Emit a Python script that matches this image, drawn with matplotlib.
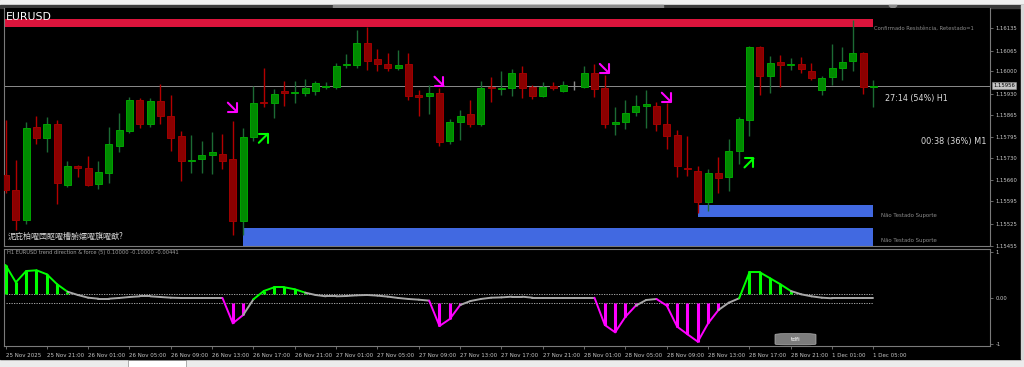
import matplotlib
matplotlib.use('Agg')
import matplotlib.pyplot as plt
from matplotlib.patches import Rectangle, FancyBboxPatch, Polygon
from matplotlib.transforms import offset_copy, blended_transform_factory

# ---------------- data ----------------
symbol = "EURUSD"
opens = [1.15678, 1.15631, 1.15535, 1.15828, 1.15793, 1.15837, 1.15647, 1.15706, 1.15700, 1.15650,
         1.15684, 1.15768, 1.15815, 1.15912, 1.15837, 1.15909, 1.15862, 1.15800, 1.15722, 1.15728,
         1.15740, 1.15743, 1.15728, 1.15532, 1.15796, 1.15906, 1.15902, 1.15938, 1.15933, 1.15934,
         1.15940, 1.15950, 1.15950, 1.16019, 1.16019, 1.16090, 1.16038, 1.16024, 1.16010, 1.16024,
         1.15926, 1.15924, 1.15933, 1.15782, 1.15842, 1.15867, 1.15836, 1.15952, 1.15944, 1.15947,
         1.15995, 1.15952, 1.15922, 1.15955, 1.15939, 1.15956, 1.15953, 1.15995, 1.15948, 1.15836,
         1.15842, 1.15872, 1.15893, 1.15893, 1.15836, 1.15803, 1.15700, 1.15688, 1.15592, 1.15683,
         1.15670, 1.15751, 1.15847, 1.16075, 1.15987, 1.16029, 1.16019, 1.16023, 1.16002, 1.15943,
         1.15982, 1.16012, 1.16033, 1.16057, 1.15953]
highs = [1.15849, 1.15725, 1.15843, 1.15862, 1.15859, 1.15849, 1.15722, 1.15707, 1.15737, 1.15722,
         1.15828, 1.15871, 1.15921, 1.15918, 1.15918, 1.15961, 1.15927, 1.15815, 1.15803, 1.15784,
         1.15812, 1.15806, 1.15846, 1.15824, 1.15955, 1.16012, 1.15946, 1.15971, 1.15969, 1.15977,
         1.15971, 1.15966, 1.16028, 1.16055, 1.16130, 1.16138, 1.16070, 1.16057, 1.16067, 1.16059,
         1.15943, 1.15958, 1.15948, 1.15852, 1.15880, 1.15912, 1.15971, 1.15984, 1.16000, 1.16007,
         1.16018, 1.15958, 1.15966, 1.15968, 1.15971, 1.15969, 1.16018, 1.16024, 1.15990, 1.15888,
         1.15912, 1.15927, 1.15943, 1.15906, 1.15902, 1.15818, 1.15800, 1.15706, 1.15694, 1.15732,
         1.15789, 1.15857, 1.16080, 1.16081, 1.16049, 1.16050, 1.16042, 1.16045, 1.16026, 1.15987,
         1.16085, 1.16076, 1.16161, 1.16060, 1.15974]
lows = [1.15622, 1.15504, 1.15525, 1.15772, 1.15747, 1.15585, 1.15638, 1.15669, 1.15641, 1.15634,
        1.15653, 1.15747, 1.15809, 1.15824, 1.15828, 1.15837, 1.15753, 1.15659, 1.15684, 1.15684,
        1.15681, 1.15694, 1.15488, 1.15488, 1.15784, 1.15890, 1.15856, 1.15891, 1.15903, 1.15924,
        1.15927, 1.15945, 1.15945, 1.16011, 1.16011, 1.16005, 1.16000, 1.16002, 1.16005, 1.15912,
        1.15860, 1.15867, 1.15766, 1.15772, 1.15787, 1.15827, 1.15831, 1.15906, 1.15927, 1.15922,
        1.15917, 1.15914, 1.15920, 1.15943, 1.15937, 1.15943, 1.15948, 1.15920, 1.15824, 1.15803,
        1.15821, 1.15860, 1.15824, 1.15813, 1.15758, 1.15670, 1.15673, 1.15558, 1.15564, 1.15621,
        1.15626, 1.15712, 1.15800, 1.15925, 1.15934, 1.15953, 1.16005, 1.15995, 1.15974, 1.15927,
        1.15958, 1.15974, 1.16000, 1.15929, 1.15889]
closes = [1.15629, 1.15535, 1.15824, 1.15793, 1.15837, 1.15653, 1.15706, 1.15700, 1.15647, 1.15687,
          1.15775, 1.15818, 1.15912, 1.15837, 1.15909, 1.15862, 1.15793, 1.15719, 1.15725, 1.15740,
          1.15747, 1.15722, 1.15532, 1.15796, 1.15902, 1.15903, 1.15930, 1.15933, 1.15937, 1.15949,
          1.15965, 1.15954, 1.16018, 1.16023, 1.16088, 1.16034, 1.16023, 1.16010, 1.16021, 1.15922,
          1.15921, 1.15934, 1.15780, 1.15841, 1.15861, 1.15837, 1.15948, 1.15948, 1.15948, 1.15995,
          1.15948, 1.15922, 1.15953, 1.15947, 1.15957, 1.15956, 1.15995, 1.15945, 1.15836, 1.15842,
          1.15870, 1.15893, 1.15897, 1.15837, 1.15800, 1.15704, 1.15694, 1.15592, 1.15683, 1.15668,
          1.15753, 1.15852, 1.16075, 1.15987, 1.16026, 1.16019, 1.16023, 1.16008, 1.15981, 1.15979,
          1.16010, 1.16029, 1.16057, 1.15953, 1.15956]

# trend direction & force values per bar
tdf = [0.724, 0.348, 0.593, 0.609, 0.522, 0.304, 0.143, 0.072, 0.013, -0.009,
       -0.009, 0.007, 0.028, 0.043, 0.043, 0.028, 0.013, 0.007, 0.007, 0.007,
       0.007, 0.007, -0.543, -0.363, -0.020, 0.159, 0.239, 0.239, 0.196, 0.123,
       0.072, 0.043, 0.043, 0.050, 0.065, 0.072, 0.058, 0.036, 0.007, -0.015,
       -0.030, -0.051, -0.602, -0.450, -0.146, -0.059, -0.015, 0.013, 0.020, 0.035,
       0.035, 0.013, 0.013, 0.013, 0.013, 0.013, 0.013, 0.013, -0.580, -0.739,
       -0.400, -0.160, -0.037, -0.015, -0.160, -0.616, -0.783, -0.943, -0.543, -0.254,
       -0.095, 0.000, 0.565, 0.565, 0.435, 0.304, 0.159, 0.087, 0.043, 0.013,
       0.000, 0.000, 0.000, 0.000, 0.000]
tdf_levels = [0.1, -0.1]

time_labels = ["25 Nov 2025", "25 Nov 21:00", "26 Nov 01:00", "26 Nov 05:00", "26 Nov 09:00",
               "26 Nov 13:00", "26 Nov 17:00", "26 Nov 21:00", "27 Nov 01:00", "27 Nov 05:00",
               "27 Nov 09:00", "27 Nov 13:00", "27 Nov 17:00", "27 Nov 21:00", "28 Nov 01:00",
               "28 Nov 05:00", "28 Nov 09:00", "28 Nov 13:00", "28 Nov 17:00", "28 Nov 21:00",
               "1 Dec 01:00", "1 Dec 05:00"]
time_label_bars = list(range(0, 85, 4))

price_ticks = [1.16135, 1.16065, 1.16000, 1.15930, 1.15865, 1.15795, 1.15730,
               1.15660, 1.15595, 1.15525, 1.15455]
current_price = 1.15956

down_arrow_bars = [22, 42, 58, 64]
down_arrow_prices = [1.15887, 1.15968, 1.16008, 1.15918]
up_arrow_bars = [25, 72]
up_arrow_prices = [1.15793, 1.15716]

# zones: (start bar, end bar, low price, high price, label, label price)
zone_res = (-1, 84, 1.16138, 1.16164, "Confirmado Resistência, Retestado=1", 1.16136)
zone_sup1 = (67, 84, 1.15546, 1.15582, "Não Testado Suporte", 1.15551)
zone_sup2 = (23, 84, 1.15440, 1.15512, "Não Testado Suporte", 1.15472)

timer_h1 = "27:14 (54%) H1"
timer_m1 = "00:38 (36%) M1"
ind_title = "H1 EURUSD trend direction & force (5) 0.10000 -0.10000 -0.00441"
garbled = "泥庇柏嚁団眍嚁槽腑嬬嚁旗嚁猷?"

# ---------------- figure ----------------
W, H = 1024, 367
fig = plt.figure(figsize=(W / 100, H / 100), dpi=100, facecolor='black')
plt.rcParams['font.family'] = ['DejaVu Sans']


def px_axes(x0, y0, x1, y1):
    return fig.add_axes([x0 / W, 1 - y1 / H, (x1 - x0) / W, (y1 - y0) / H])


# window chrome
bg = fig.add_axes([0, 0, 1, 1])
bg.set_xlim(0, W)
bg.set_ylim(H, 0)
bg.axis('off')
bg.add_patch(Rectangle((0, 0), W, 5, color='#f0f0f0'))
bg.add_patch(Rectangle((0, 5), W, 3, color='#3a3a3a'))
bg.add_patch(Rectangle((333, 5), 330, 3, color='#8a8a8a'))
bg.add_patch(Polygon([[889, 5.5], [897, 5.5], [893, 9]], closed=True, color='#8a8a8a'))
bg.add_patch(Rectangle((0, 359), W, 8, color='#ececec'))
bg.add_patch(Rectangle((128, 360), 58, 7, facecolor='white', edgecolor='#a0a0a0', lw=0.6))
bg.add_patch(Rectangle((0, 347), 1021, 12, color='black'))
bg.add_patch(Rectangle((1021, 5), 3, 354, color='#d8d8d8'))

GRID = '#7a7a7a'
TXT = '#c8c8c8'

# ---------------- main chart ----------------
X0, X1 = 4, 990
bar_px0, bar_dx = 5.5, 10.333
xl = ((X0 - bar_px0) / bar_dx, (X1 - bar_px0) / bar_dx)

ax = px_axes(X0, 8, X1, 246)
ax.set_facecolor('black')
ax.set_xlim(*xl)
p_ref, y_ref, ppx = 1.16135, 28.3, 32100.0
ax.set_ylim(p_ref - (246 - y_ref) / ppx, p_ref + (y_ref - 8) / ppx)
for s in ax.spines.values():
    s.set_color(GRID)
    s.set_linewidth(0.8)
ax.spines['top'].set_visible(False)
ax.set_xticks([])
ax.yaxis.tick_right()
ax.set_yticks(price_ticks)
ax.set_yticklabels([f"{p:.5f}" for p in price_ticks])
ax.tick_params(axis='y', colors=GRID, labelcolor=TXT, labelsize=3.8, length=2, width=0.6, pad=2)

# zones
for (b0, b1, lo, hi, lab, lp), col in [(zone_res, '#dc143c'), (zone_sup1, '#4169e1'),
                                       (zone_sup2, '#4169e1')]:
    x_left = b0 if b0 >= 0 else xl[0]
    ax.add_patch(Rectangle((x_left, lo), b1 - x_left, hi - lo, facecolor=col, edgecolor='none', zorder=1))

ax.text(zone_res[1] + 0.05, zone_res[5], zone_res[4], color='#8a8a8a', fontsize=3.8,
        ha='left', va='center', zorder=5)
for z in (zone_sup1, zone_sup2):
    ax.text(z[1] + 0.7, z[5], z[4], color='#8a8a8a', fontsize=3.9, ha='left', va='center', zorder=5)

# current price line
ax.axhline(current_price, color='#8c8c8c', lw=0.7, zorder=2)

# candles
n = len(opens)
idx = list(range(n))
for i in idx:
    o, h, l, c = opens[i], highs[i], lows[i], closes[i]
    if c > o:
        wick, body, edge = '#1c6b34', '#008a00', '#00a300'
    elif c < o:
        wick, body, edge = '#b40000', '#8b0000', '#a00000'
    else:
        wick, body, edge = '#8c8c8c', '#8c8c8c', '#8c8c8c'
    ax.vlines(i, l, h, color=wick, lw=1.0, zorder=3)
    ax.bar(i, c - o, bottom=o, width=0.66, color=body, edgecolor=edge, lw=0.7, zorder=4)

# signal arrows
head_dn = offset_copy(ax.transData, fig=fig, x=3.6, y=-3.6, units='points')
for b, p in zip(down_arrow_bars, down_arrow_prices):
    ax.annotate('', xy=(b, p), xycoords=head_dn, xytext=(-7.2, 7.2), textcoords='offset points',
                arrowprops=dict(arrowstyle='->,head_length=0.45,head_width=0.45', color='#ff00ff',
                                lw=1.5, shrinkA=0, shrinkB=0), zorder=6)
head_up = offset_copy(ax.transData, fig=fig, x=3.6, y=3.6, units='points')
for b, p in zip(up_arrow_bars, up_arrow_prices):
    ax.annotate('', xy=(b, p), xycoords=head_up, xytext=(-7.2, -7.2), textcoords='offset points',
                arrowprops=dict(arrowstyle='->,head_length=0.45,head_width=0.45', color='#00ff00',
                                lw=1.5, shrinkA=0, shrinkB=0), zorder=6)

# texts
ax.text(0.002, 0.985, symbol, transform=ax.transAxes, color='white', fontsize=7.8,
        ha='left', va='top', zorder=7)
ax.text(0.004, 0.022, garbled, transform=ax.transAxes, color='#d8d8d8', fontsize=5.8,
        ha='left', va='bottom', family=['Noto Sans CJK JP', 'DejaVu Sans'], zorder=7)
ax.text(0.8935, 0.62, timer_h1, transform=ax.transAxes, color='#dcdcdc', fontsize=5.8,
        ha='left', va='center', zorder=7)
ax.text(0.9305, 0.44, timer_m1, transform=ax.transAxes, color='#dcdcdc', fontsize=5.9,
        ha='left', va='center', zorder=7)

# current price box on the axis
trb = blended_transform_factory(ax.transAxes, ax.transData)
ax.text(1.003, current_price, f"{current_price:.5f}", transform=trb, color='black', fontsize=3.8,
        ha='left', va='center', zorder=8, clip_on=False,
        bbox=dict(boxstyle='square,pad=0.25', facecolor='#c4c4c4', edgecolor='#909090', lw=0.4))

# ---------------- indicator pane ----------------
ai = px_axes(X0, 249, X1, 346)
ai.set_facecolor('black')
ai.set_xlim(*xl)
ai.set_ylim((298.3 - 346) / 46.0, (298.3 - 249) / 46.0)
for s in ai.spines.values():
    s.set_color(GRID)
    s.set_linewidth(0.8)
ai.yaxis.tick_right()
ai.set_yticks([1, 0, -1])
ai.set_yticklabels(["1", "0.00", "-1"])
ai.tick_params(axis='y', colors=GRID, labelcolor=TXT, labelsize=3.8, length=2, width=0.6, pad=2)
ai.set_xticks(time_label_bars)
ai.set_xticklabels(time_labels)
ai.tick_params(axis='x', colors=GRID, labelcolor=TXT, labelsize=4.0, length=2.2, width=0.6, pad=2.6)
for t in ai.get_xticklabels():
    t.set_ha('left')

up_lv, dn_lv = tdf_levels
ai.hlines(tdf_levels, 0, n - 1, colors='#bdbdbd', linestyles=(0, (1.5, 1.5)), lw=0.6, zorder=2)

# histogram
for i in idx:
    v = tdf[i]
    if v > up_lv:
        ai.vlines(i, up_lv, v, color='#00ff00', lw=2.2, zorder=3)
    elif v < dn_lv:
        ai.vlines(i, dn_lv, v, color='#ff00ff', lw=2.2, zorder=3)

# line, coloured by state of the newer bar
for i in range(1, n):
    v = tdf[i]
    col = '#00ff00' if v > up_lv else ('#ff00ff' if v < dn_lv else '#a8a8a8')
    ai.plot([i - 1, i], [tdf[i - 1], v], color=col, lw=1.4, solid_capstyle='round', zorder=4)

ai.text(0.0035, 0.985, ind_title, transform=ai.transAxes, color='#a0a0a0', fontsize=3.7,
        ha='left', va='top')

# tdfi button
btn_x = (775 - X0) / (X1 - X0)
ai.add_patch(FancyBboxPatch((btn_x, 0.012), 41 / (X1 - X0), 0.115, transform=ai.transAxes,
                            boxstyle='round,pad=0,rounding_size=0.01', facecolor='#7c7c7c',
                            edgecolor='#b0b0b0', lw=0.5, zorder=6))
ai.text(btn_x + 20.5 / (X1 - X0), 0.07, "tdfi", transform=ai.transAxes, color='white',
        fontsize=4.2, ha='center', va='center', zorder=7)

fig.savefig('out.png', dpi=100, facecolor='black')
